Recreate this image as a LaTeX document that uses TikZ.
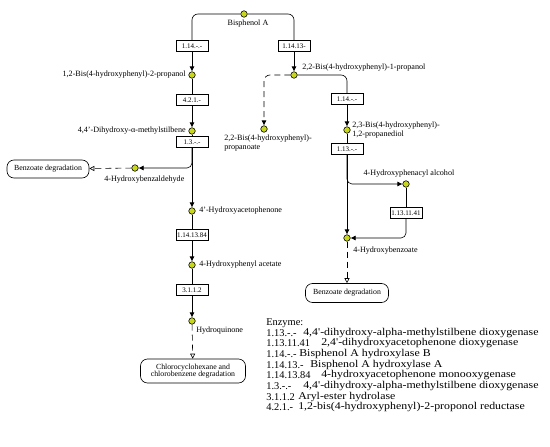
\documentclass[tikz,border=0pt]{standalone}
\usepackage{fontspec}
\setmainfont{Liberation Serif}
\newfontfamily\legwide[FakeStretch=1.14]{Liberation Serif}
\usetikzlibrary{arrows.meta}
\definecolor{cpdfill}{RGB}{200,215,30}

\begin{document}
\begin{tikzpicture}[x=1pt, y=-1pt, line width=0.6pt,
  cpd/.style={circle, draw, fill=cpdfill, inner sep=0pt, minimum size=6.5pt},
  enz/.style={draw, fill=white, inner sep=1pt, minimum width=32pt, minimum height=10.5pt, font=\fontsize{7}{7}\selectfont},
  map/.style={draw, fill=white, rounded corners=7pt, align=center, font=\fontsize{7.8}{8}\selectfont, inner sep=2pt},
  lbl/.style={font=\fontsize{8.1}{8.6}\selectfont, inner sep=0pt, align=left},
  leg/.style={font=\fontsize{10.4}{10}\selectfont, inner sep=0pt, anchor=west},
  legd/.style={leg, font=\legwide\fontsize{10.4}{10}\selectfont},
  rx/.style={-{Latex[length=5pt,width=5pt]}},
  ox/.style={dash pattern=on 6pt off 4pt, -{Triangle[open,length=5pt,width=5pt]}}]
\useasboundingbox (0,0) rectangle (550,447);

% compounds
\node[cpd] (bpa) at (244,14) {};
\node[cpd] (c1) at (192,75) {};
\node[cpd] (c2) at (294,75) {};
\node[cpd] (c3) at (192,131) {};
\node[cpd] (c4) at (135,168) {};
\node[cpd] (c5) at (192,211) {};
\node[cpd] (c6) at (192,265) {};
\node[cpd] (c7) at (192,321) {};
\node[cpd] (c8) at (264,129) {};
\node[cpd] (c9) at (347,130) {};
\node[cpd] (c10) at (406,184) {};
\node[cpd] (c11) at (347,238) {};

% enzymes
\node[enz] (e1) at (192,46) {1.14.-.-};
\node[enz] (e2) at (294,46) {1.14.13-};
\node[enz] (e3) at (192,100) {4.2.1.-};
\node[enz] (e4) at (192,142) {1.3.-.-};
\node[enz] (e5) at (192,235) {1.14.13.84};
\node[enz] (e6) at (192,290) {3.1.1.2};
\node[enz] (e7) at (347,99) {1.14.-.-};
\node[enz] (e8) at (347,149) {1.13.-.-};
\node[enz] (e9) at (406,213) {1.13.11.41};

% maps
\node[map, minimum width=82pt, minimum height=18pt] (m1) at (48,169) {Benzoate degradation};
\node[map, minimum width=83pt, minimum height=19pt] (m2) at (347,293) {Benzoate degradation};
\node[map, minimum width=105pt, minimum height=24pt] (m3) at (193,371) {Chlorocyclohexane and\\[-1pt]chlorobenzene degradation};

% labels
\node[lbl, anchor=north] (lbpa) at (248,20) {Bisphenol A};
\node[lbl, anchor=east] (lc1) at (186,75) {1,2-Bis(4-hydroxyphenyl)-2-propanol};
\node[lbl, anchor=west] (lc2) at (302,68) {2,2-Bis(4-hydroxyphenyl)-1-propanol};
\node[lbl, anchor=east] (lc3) at (186,131) {4,4'-Dihydroxy-α-methylstilbene};
\node[lbl, anchor=west] (lc4) at (104,180) {4-Hydroxybenzaldehyde};
\node[lbl, anchor=west] (lc5) at (199,211) {4'-Hydroxyacetophenone};
\node[lbl, anchor=west] (lc6) at (199,265) {4-Hydroxyphenyl acetate};
\node[lbl, anchor=west] (lc7) at (196,331) {Hydroquinone};
\node[lbl, anchor=north west] (lc8) at (224,135) {2,2-Bis(4-hydroxyphenyl)-\\propanoate};
\node[lbl, anchor=west] (lc9) at (352,130) {2,3-Bis(4-hydroxyphenyl)-\\1,2-propanediol};
\node[lbl] (lc10) at (409,174) {4-Hydroxyphenacyl alcohol};
\node[lbl, anchor=west] (lc11) at (353,251) {4-Hydroxybenzoate};

% left route
\draw[rounded corners=6pt] (bpa.west) -| (e1.north);
\draw[rx] (e1) -- (c1);
\draw (c1) -- (e3);
\draw[rx] (e3) -- (c3);
\draw (c3) -- (e4);
\draw[rx] (e4) -- (c5);
\draw[rx, rounded corners=5pt] (e4.south) |- (c4);
\draw[ox] (c4) -- (m1);
\draw (c5) -- (e5);
\draw[rx] (e5) -- (c6);
\draw (c6) -- (e6);
\draw[rx] (e6) -- (c7);
\draw[ox] (c7) -- (m3);

% right route
\draw[rounded corners=6pt] (bpa.east) -| (e2.north);
\draw[rx] (e2) -- (c2);
\draw[rx, dash pattern=on 6pt off 4pt, rounded corners=6pt] (c2.west) -| (c8);
\draw[rounded corners=6pt] (c2.east) -| (e7.north);
\draw[rx] (e7) -- (c9);
\draw (c9) -- (e8);
\draw[rx] (e8) -- (c11);
\draw[rx, rounded corners=5pt] (e8.south) |- (c10);
\draw (c10) -- (e9);
\draw[rx, rounded corners=5pt] (e9.south) |- (c11);
\draw[ox] (c11) -- (m2);

% enzyme list
\node[leg] (lg0) at (266,323) {Enzyme:};
\node[leg] (lg1a) at (266,332.7) {1.13.-.-};
\node[legd] (lg1b) at (303,332.7) {4,4'-dihydroxy-alpha-methylstilbene dioxygenase};
\node[leg] (lg2a) at (266,343.4) {1.13.11.41};
\node[legd] (lg2b) at (321,343.4) {2,4'-dihydroxyacetophenone dioxygenase};
\node[leg] (lg3a) at (266,354) {1.14.-.-};
\node[legd] (lg3b) at (299,354) {Bisphenol A hydroxylase B};
\node[leg] (lg4a) at (266,364.7) {1.14.13.-};
\node[legd] (lg4b) at (310,364.7) {Bisphenol A hydroxylase A};
\node[leg] (lg5a) at (266,375.3) {1.14.13.84};
\node[legd] (lg5b) at (321,375.3) {4-hydroxyacetophenone monooxygenase};
\node[leg] (lg6a) at (266,386) {1.3.-.-};
\node[legd] (lg6b) at (303,386) {4,4'-dihydroxy-alpha-methylstilbene dioxygenase};
\node[leg] (lg7a) at (266,396.7) {3.1.1.2};
\node[legd] (lg7b) at (298,396.7) {Aryl-ester hydrolase};
\node[leg] (lg8a) at (266,407.3) {4.2.1.-};
\node[legd] (lg8b) at (298,407.3) {1,2-bis(4-hydroxyphenyl)-2-proponol reductase};
\end{tikzpicture}
\end{document}
